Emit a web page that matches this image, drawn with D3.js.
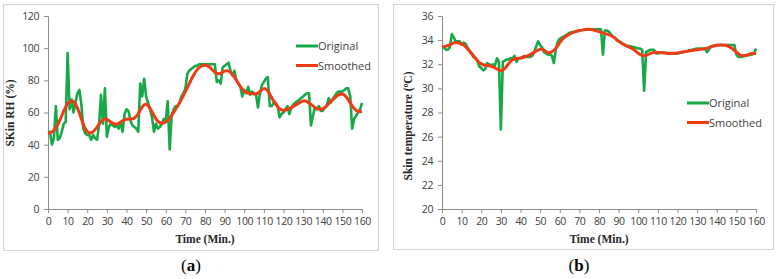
<html>
<head>
<script src="https://d3js.org/d3.v7.min.js"></script>
<style>
  body { margin: 0; background: #fff; }
</style>
</head>
<body>
<script>
// ---- data ----
var rhTime = d3.range(0, 161);
var rhOriginal = [48,48,40,44,64,43,44,48,53,54,97,62,68,60,66,72,74,65,50,47,
  46,46,43,46,44,43,52,71,53,75,45,51,53,52,51,52,50,54,48,59,
  62,61,55,52,51,50,48,78,70,81,70,66,62,57,48,53,50,51,53,56,
  55,67,37,58,62,64,64,66,70,72,75,84,86,87,88,89,89,90,90,90,
  90,90,90,90,90,90,79,80,78,88,89,90,91,86,83,86,80,78,76,70,
  74,72,76,71,73,72,71,63,72,77,79,81,82,64,64,66,66,64,57,59,
  60,62,64,59,63,65,66,67,68,69,70,71,72,72,52,58,63,62,64,61,
  61,63,64,69,66,68,70,72,73,73,73,74,75,75,70,50,56,58,60,62,66];
var rhSmoothT = d3.range(0, 161, 2);
var rhSmoothed = [47,47.5,50,55,61,66,68,66,60,52,47.5,47,49,53,56,56,54,52.5,53,55,
  56,56,56,59,64,66,63,58,54,53,54,56,60,64,68,73,78,83,87,89,
  89.5,89,86,84,84,86,86,84,80,76,73,72,72,71,73,75.5,74,69,65,62,
  61,62,63,64.5,66,67.5,67,65,63,62,62,64,67,69,71,72,70,66,62,60.5,60.5];

var tTime = [0,1,2,3,4,5,6,7,8,9,10,11,12,13,14,15,16,17,18,19,20,21,22,23,24,25,26,27,28,29,
  30,31,32,33,34,35,36,37,38,39,40,41,42,43,44,45,46,47,48,49,50,51,52,53,54,55,56,57,58,59,
  60,61,62,63,64,65,70,75,80,81,82,83,84,85,86,87,88,89,90,92,94,96,98,100,101,102,103,104,105,106,
  107,108,109,110,112,115,120,125,130,132,134,135,136,137,140,145,148,149,150,151,152,155,158,159,160];
var tOriginal = [33.4,33.4,33.2,33.2,33.4,34.5,34.2,33.9,33.9,33.9,33.6,33.8,33.7,33.4,33.1,32.9,32.6,32.5,32.3,31.8,
  31.7,31.5,31.6,32.1,32.0,31.9,32.0,31.9,32.5,32.2,26.6,32.2,32.3,32.4,32.4,32.5,32.5,32.7,32.2,32.5,
  32.5,32.6,32.7,32.6,32.6,32.6,32.7,33.0,33.5,33.9,33.6,33.4,33.0,32.9,32.8,32.8,32.7,32.1,33.2,33.9,
  34.1,34.2,34.3,34.4,34.5,34.6,34.8,34.9,34.9,34.9,32.8,34.8,34.8,34.7,34.5,34.3,34.2,34.0,33.9,33.7,
  33.5,33.5,33.4,33.3,33.3,33.2,29.8,33.0,33.1,33.2,33.2,33.2,32.9,32.9,33.0,32.9,32.9,33.1,33.3,33.3,
  33.3,33.0,33.2,33.5,33.6,33.6,33.6,33.6,32.8,32.6,32.6,32.7,32.8,32.9,33.3];
var tSmoothT = [0,2,4,6,8,10,12,14,16,18,20,22,24,26,28,30,32,34,36,38,40,42,44,46,48,50,52,54,56,58,
  60,62,64,66,68,70,72,74,76,78,80,82,84,86,88,90,92,94,96,98,100,102,104,106,108,110,115,120,125,130,
  135,138,140,142,145,148,150,152,154,156,158,160];
var tSmoothed = [33.4,33.5,33.6,33.8,33.8,33.7,33.5,33.1,32.7,32.3,32.0,31.9,31.9,31.8,31.6,31.4,31.6,32.1,32.4,32.5,
  32.5,32.6,32.7,32.9,33.1,33.3,33.2,32.9,33.0,33.3,33.8,34.2,34.4,34.6,34.7,34.8,34.85,34.9,34.9,34.8,
  34.7,34.6,34.5,34.4,34.2,33.9,33.7,33.5,33.4,33.2,32.9,32.7,32.7,32.9,33.0,33.0,32.9,32.9,33.1,33.2,
  33.3,33.5,33.6,33.6,33.6,33.3,33.0,32.7,32.7,32.8,32.9,32.9];

var xTicks = d3.range(0, 161, 10);
var rhTicks = d3.range(0, 121, 20);
var tTicks = d3.range(20, 37, 2);
var seriesNames = ["Original", "Smoothed"];

var green = "#17a848", red = "#f03c14";
var svg = d3.select("body").append("svg").attr("width", 776).attr("height", 279);

function panel(cfg) {
  var g = svg.append("g");
  g.append("rect").attr("x", cfg.box[0] + 0.5).attr("y", cfg.box[1] + 0.5)
    .attr("width", cfg.box[2]).attr("height", cfg.box[3])
    .attr("fill", "none").attr("stroke", "#d4d4d4");

  var x = d3.scaleLinear().domain([0, 160]).range([cfg.x0, cfg.x1]);
  var y = d3.scaleLinear().domain(cfg.yDom).range([cfg.yB, cfg.yT]);

  var xa = g.append("g").attr("transform", "translate(0," + cfg.yB + ")")
    .call(d3.axisBottom(x).tickValues(xTicks).tickSize(4).tickPadding(5));
  var ya = g.append("g").attr("transform", "translate(" + cfg.x0 + ",0)")
    .call(d3.axisLeft(y).tickValues(cfg.yTicks).tickSize(4).tickPadding(5));
  [xa, ya].forEach(function (a) {
    a.selectAll("path,line").attr("stroke", "#8c8c8c");
    a.selectAll("text").attr("font-family", "Open Sans, sans-serif").attr("font-size", 10.5)
      .attr("letter-spacing", -0.4).attr("fill", "#404040");
  });

  var origData = cfg.ot.map(function (t, i) { return [t, cfg.ov[i]]; });
  var smData = cfg.st.map(function (t, i) { return [t, cfg.sv[i]]; });
  var line = d3.line().x(function (d) { return x(d[0]); }).y(function (d) { return y(d[1]); });
  g.append("path").attr("d", line(origData)).attr("fill", "none")
    .attr("stroke", green).attr("stroke-width", 2.6).attr("stroke-linejoin", "round");
  g.append("path").attr("d", line.curve(d3.curveBasis)(smData)).attr("fill", "none")
    .attr("stroke", red).attr("stroke-width", 3).attr("stroke-linejoin", "round");

  // legend
  seriesNames.forEach(function (n, i) {
    var ly = cfg.leg[1] + i * 19.5;
    g.append("line").attr("x1", cfg.leg[0]).attr("x2", cfg.leg[0] + 22)
      .attr("y1", ly).attr("y2", ly).attr("stroke", i ? red : green).attr("stroke-width", 3);
    g.append("text").attr("x", cfg.leg[0] + 22).attr("y", ly + 4)
      .attr("font-family", "Open Sans, sans-serif").attr("font-size", 11)
      .attr("fill", "#404040").text(n);
  });

  g.append("text").attr("x", (cfg.x0 + cfg.x1) / 2).attr("y", 243)
    .attr("text-anchor", "middle").attr("font-family", "Liberation Serif, serif")
    .attr("font-weight", "bold").attr("font-size", 11.5).attr("fill", "#262626").text("Time  (Min.)");

  var yl = g.append("text").attr("transform", "translate(" + cfg.yl[0] + "," + cfg.yl[1] + ") rotate(-90)")
    .attr("text-anchor", "middle").attr("font-family", "Liberation Serif, serif")
    .attr("font-weight", "bold").attr("font-size", 11.5).attr("fill", "#262626");
  cfg.ylab(yl);

  var c = svg.append("text").attr("x", cfg.cap[0]).attr("y", 271).attr("text-anchor", "middle")
    .attr("font-family", "Liberation Serif, serif").attr("font-size", 17).attr("fill", "#000");
  c.append("tspan").text("(");
  c.append("tspan").attr("font-weight", "bold").text(cfg.cap[1]);
  c.append("tspan").text(")");
}

panel({
  box: [3, 4, 375, 246], x0: 48, x1: 362, yB: 209, yT: 16, yDom: [0, 120], yTicks: rhTicks,
  ot: rhTime, ov: rhOriginal, st: rhSmoothT, sv: rhSmoothed, leg: [296, 46], yl: [14, 113],
  ylab: function (t) { t.text("SKin RH  (%)"); }, cap: [191, "a"]
});
panel({
  box: [393, 4, 380, 245], x0: 442, x1: 756, yB: 209, yT: 16, yDom: [20, 36], yTicks: tTicks,
  ot: tTime, ov: tOriginal, st: tSmoothT, sv: tSmoothed, leg: [687, 103], yl: [412, 126],
  ylab: function (t) {
    t.append("tspan").text("Skin temperature  (");
    t.append("tspan").attr("dy", -4).attr("font-size", 7.5).text("o");
    t.append("tspan").attr("dy", 4).text("C)");
  }, cap: [579, "b"]
});
</script>
</body>
</html>
